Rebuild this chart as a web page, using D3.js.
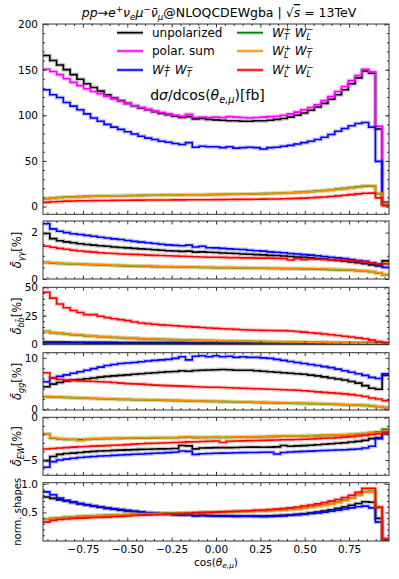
<!DOCTYPE html>
<html><head><meta charset="utf-8">
<script src="https://cdn.jsdelivr.net/npm/d3@7"></script>
<style>body{margin:0;background:#fff} text{font-family:"DejaVu Sans",sans-serif}</style>
</head><body><svg id="c" width="399" height="579"></svg>
<script>
// ---------- data ----------
const nBins = 51, xMin = -0.975, xMax = 0.975;
const binEdges = d3.range(nBins + 1).map(i => xMin + i * (xMax - xMin) / nBins);
const xTickVals = [-0.75, -0.5, -0.25, 0, 0.25, 0.5, 0.75];
const xTickLabels = ["−0.75", "−0.50", "−0.25", "0.00", "0.25", "0.50", "0.75"];

const mainUnpol = [165.5,160,155,150,144.5,139.5,134.5,130.5,126.5,122.5,
119,116,113,110.5,108,106,104,102,100.5,99,
97.5,98.5,96,96.5,95.5,95,94.5,94,94,93.5,
93.5,94,94,94.5,95.5,96.5,98,100,102.5,105.5,
109,113,117.5,122.5,128,134.5,141,148.5,146,85,
2.5];
const mainPolSum = [150.5,148,144.5,140,136,132.5,129,126,123.5,120.5,
118,115.5,113,110.5,108.5,106.5,104.5,103,101.5,100,
99,101,97.5,98,97.5,98,97.5,98.5,98,97.5,
97,97.5,98,98.5,99,100,101.5,103.5,106,108.5,
111.5,116,120.5,126,131.5,138,143.5,150.5,147.5,88,
5];
const mainTT = [128,122.5,119.5,114,110,106,101.5,97,93.5,90,
87,84.5,82,79.5,77,75,73.5,71.5,70.5,69,
68,70,65,66,65.5,65.5,64.5,65.5,64,64.5,
65,64.5,63,64.5,65,66,67,68.5,70,71.5,
73.5,76,79,82.5,85.5,88.5,91,92,87,49.5,
4];
const mainTL = [8.7,9.4,9.9,10.3,10.6,10.9,11.1,11.3,11.5,11.6,
11.8,11.9,12.0,12.1,12.2,12.3,12.4,12.5,12.6,12.7,
12.8,12.9,13.0,13.0,13.1,13.2,13.3,13.4,13.5,13.6,
13.8,13.9,14.1,14.3,14.5,14.8,15.1,15.5,15.9,16.4,
17.0,17.6,18.3,19.1,19.9,20.8,21.6,22.4,22.2,14.0,
3.0];
const mainLT = [8.5,9.3,9.8,10.2,10.5,10.8,11.0,11.2,11.4,11.5,
11.7,11.8,11.9,12.0,12.1,12.2,12.3,12.4,12.5,12.6,
12.7,12.8,12.9,12.9,13.0,13.1,13.2,13.3,13.4,13.5,
13.7,13.8,14.0,14.2,14.4,14.7,15.0,15.3,15.7,16.2,
16.7,17.3,18.0,18.7,19.5,20.3,21.2,22.7,22.7,14.5,
3.2];
const mainLL = [4.6,5.2,5.6,5.9,6.1,6.3,6.4,6.5,6.6,6.7,
6.8,6.9,6.9,7.0,7.0,7.1,7.1,7.2,7.2,7.3,
7.3,7.4,7.4,7.5,7.5,7.6,7.6,7.7,7.8,7.8,
7.9,8.0,8.1,8.2,8.3,8.5,8.7,8.9,9.2,9.6,
10.0,10.5,11.0,11.7,12.4,13.1,13.9,14.6,14.7,9.5,
0.8];

const yyUnpol = [1.96,1.74,1.65,1.60,1.56,1.52,1.49,1.46,1.43,1.41,
1.38,1.36,1.34,1.32,1.30,1.28,1.26,1.24,1.22,1.21,
1.19,1.20,1.16,1.17,1.15,1.14,1.12,1.11,1.10,1.08,
1.07,1.05,1.04,1.02,1.01,0.99,0.97,0.95,0.93,0.91,
0.88,0.86,0.83,0.80,0.77,0.73,0.70,0.66,0.61,0.56,
0.78];
const yyTT = [2.38,2.16,2.06,2.00,1.95,1.92,1.88,1.84,1.80,1.77,
1.73,1.70,1.66,1.62,1.59,1.56,1.53,1.50,1.47,1.45,
1.43,1.46,1.38,1.41,1.35,1.34,1.32,1.30,1.28,1.27,
1.24,1.22,1.20,1.17,1.15,1.13,1.10,1.08,1.05,1.03,
1.00,0.97,0.94,0.91,0.88,0.84,0.80,0.76,0.70,0.62,
0.50];
const yyTL = [0.71,0.685,0.665,0.655,0.645,0.635,0.625,0.615,0.605,0.595,
0.585,0.575,0.565,0.555,0.545,0.545,0.535,0.525,0.525,0.515,
0.515,0.505,0.505,0.495,0.495,0.485,0.485,0.485,0.475,0.475,
0.465,0.465,0.465,0.455,0.455,0.445,0.445,0.445,0.435,0.435,
0.425,0.415,0.405,0.395,0.385,0.375,0.355,0.335,0.31,0.25,
0.18];
const yyLT = [0.72,0.70,0.68,0.67,0.66,0.65,0.64,0.63,0.62,0.61,
0.60,0.59,0.58,0.57,0.56,0.56,0.55,0.54,0.54,0.53,
0.53,0.52,0.52,0.51,0.51,0.50,0.50,0.50,0.49,0.49,
0.48,0.48,0.48,0.47,0.47,0.46,0.46,0.46,0.45,0.45,
0.44,0.43,0.42,0.41,0.40,0.39,0.37,0.35,0.32,0.26,
0.19];
const yyLL = [1.41,1.37,1.32,1.28,1.24,1.21,1.18,1.16,1.13,1.11,
1.10,1.08,1.07,1.06,1.05,1.03,1.02,1.01,1.00,0.99,
0.98,0.97,0.96,0.95,0.94,0.94,0.93,0.92,0.92,0.91,
0.91,0.90,0.90,0.90,0.89,0.88,0.82,0.87,0.83,0.86,
0.85,0.84,0.83,0.82,0.80,0.78,0.76,0.73,0.69,0.66,
0.65];

const bbUnpol = [1.8,1.75,1.7,1.66,1.62,1.58,1.55,1.52,1.49,1.46,
1.43,1.4,1.38,1.35,1.33,1.3,1.28,1.26,1.24,1.22,
1.2,1.18,1.16,1.14,1.12,1.1,1.08,1.06,1.04,1.02,
1.0,0.98,0.96,0.94,0.92,0.9,0.88,0.86,0.84,0.82,
0.8,0.78,0.76,0.74,0.72,0.7,0.68,0.66,0.64,0.62,
0.6];
const bbTT = [0.95,0.92,0.9,0.88,0.86,0.84,0.82,0.8,0.79,0.78,
0.76,0.75,0.74,0.72,0.71,0.7,0.68,0.67,0.66,0.65,
0.64,0.62,0.61,0.6,0.59,0.58,0.57,0.56,0.55,0.54,
0.53,0.52,0.51,0.5,0.49,0.48,0.47,0.46,0.45,0.44,
0.43,0.42,0.41,0.4,0.39,0.38,0.37,0.36,0.35,0.33,
0.3];
const bbTL = [11.0,10.0,9.4,8.8,8.2,7.7,7.2,6.8,6.4,6.1,
5.8,5.5,5.2,5.0,4.7,4.5,4.3,4.1,3.9,3.7,
3.6,3.4,3.3,3.1,3.0,2.9,2.7,2.6,2.5,2.4,
2.3,2.2,2.1,2.0,1.9,1.8,1.7,1.6,1.5,1.4,
1.35,1.25,1.15,1.05,0.95,0.85,0.75,0.65,0.55,0.45,
0.3];
const bbLT = [11.3,10.2,9.6,9.0,8.4,7.9,7.4,7.0,6.6,6.3,
6.0,5.7,5.4,5.1,4.9,4.6,4.4,4.2,4.0,3.9,
3.7,3.5,3.4,3.2,3.1,3.0,2.8,2.7,2.6,2.5,
2.4,2.3,2.2,2.1,2.0,1.9,1.8,1.7,1.6,1.5,
1.4,1.3,1.2,1.1,1.0,0.9,0.8,0.7,0.6,0.5,
0.3];
const bbLL = [45.6,40.5,35.3,32,29.5,27.8,25.9,25.9,24.5,23.3,
22.3,21.5,20.6,19.4,18.5,18.0,17.4,16.9,16.5,16.1,
15.7,15.3,14.9,14.5,14.1,13.8,13.5,13.2,12.9,12.6,
12.4,12.2,12.0,11.9,11.8,11.8,11.5,11.0,10.5,10.0,
9.4,8.8,8.2,7.5,6.9,6.2,5.4,4.6,3.4,2.2,
1.2];

const ggUnpol = [4.4,4.9,5.2,5.5,5.7,5.8,5.95,6.1,6.25,6.4,
6.5,6.6,6.7,6.8,6.9,7.0,7.1,7.2,7.3,7.35,
7.5,7.4,7.55,7.6,7.65,7.7,7.75,7.7,7.6,7.6,
7.6,7.5,7.4,7.3,7.2,7.1,7.0,6.9,6.8,6.65,
6.5,6.3,6.1,5.9,5.7,5.4,5.1,4.6,4.1,3.9,
6.6];
const ggTT = [5.35,6.1,6.4,6.7,7.0,7.3,7.6,7.9,8.2,8.5,
8.7,8.9,9.0,9.1,9.25,9.4,9.5,9.6,9.7,9.9,
10.2,9.6,10.3,10.4,10.2,10.4,10.2,10.3,10.1,10.2,
10.1,10.1,10.0,9.9,9.7,9.5,9.3,9.1,8.9,8.7,
8.5,8.3,8.1,7.8,7.5,7.2,6.9,6.6,6.2,6.0,
6.9];
const ggTL = [2.45,2.4,2.35,2.3,2.25,2.2,2.15,2.1,2.05,2.0,
1.95,1.93,1.9,1.87,1.85,1.82,1.79,1.76,1.73,1.7,
1.67,1.64,1.61,1.58,1.55,1.52,1.49,1.46,1.43,1.4,
1.37,1.34,1.31,1.28,1.25,1.22,1.19,1.16,1.13,1.1,
1.07,1.04,1.0,0.95,0.9,0.85,0.8,0.73,0.65,0.5,
0.35];
const ggLT = [2.5,2.45,2.4,2.35,2.3,2.25,2.2,2.15,2.1,2.05,
2.0,1.98,1.95,1.92,1.9,1.87,1.84,1.81,1.78,1.75,
1.72,1.69,1.66,1.63,1.6,1.57,1.54,1.51,1.48,1.45,
1.42,1.39,1.36,1.33,1.3,1.27,1.24,1.21,1.18,1.15,
1.12,1.09,1.05,1.0,0.95,0.9,0.85,0.78,0.7,0.55,
0.4];
const ggLL = [7.1,6.1,5.8,5.7,5.6,5.5,5.45,5.4,5.35,5.3,
5.2,5.1,5.0,4.95,4.9,4.8,4.7,4.65,4.6,4.55,
4.5,4.45,4.4,4.35,4.3,4.3,4.25,4.2,4.15,4.1,
4.05,4.0,3.95,3.9,3.85,3.8,3.75,3.7,3.6,3.5,
3.4,3.3,3.2,3.1,3.0,2.85,2.7,2.5,2.2,2.0,
1.7];

const ewUnpol = [-5.08,-4.6,-4.35,-4.25,-4.2,-4.12,-4.05,-4.0,-3.95,-3.92,
-3.88,-3.85,-3.82,-3.79,-3.76,-3.74,-3.72,-3.7,-3.68,-3.66,
-3.3,-3.35,-3.7,-3.6,-3.58,-3.56,-3.55,-3.56,-3.54,-3.52,
-3.5,-3.5,-3.52,-3.5,-3.47,-3.3,-3.4,-3.35,-3.32,-3.28,
-3.22,-3.16,-3.1,-3.05,-2.98,-2.9,-2.82,-2.7,-2.5,-2.4,
-1.7];
const ewTT = [-5.86,-5.2,-5.0,-4.9,-4.8,-4.72,-4.65,-4.6,-4.54,-4.5,
-4.46,-4.42,-4.38,-4.34,-4.3,-4.26,-4.22,-4.18,-4.14,-4.1,
-3.95,-4.0,-4.35,-4.28,-4.25,-4.22,-4.2,-4.18,-4.16,-4.14,
-4.13,-4.12,-4.1,-4.1,-4.3,-4.12,-4.06,-4.03,-4.0,-3.97,
-3.93,-3.9,-3.87,-3.83,-3.8,-3.76,-3.71,-3.6,-3.4,-2.5,
-1.95];
const ewTL = [-1.96,-2.45,-2.55,-2.6,-2.6,-2.62,-2.6,-2.55,-2.52,-2.5,
-2.48,-2.47,-2.45,-2.44,-2.43,-2.42,-2.41,-2.4,-2.4,-2.39,
-2.36,-2.34,-2.38,-2.37,-2.36,-2.35,-2.36,-2.35,-2.33,-2.32,
-2.31,-2.3,-2.28,-2.26,-2.24,-2.22,-2.2,-2.2,-2.18,-2.17,
-2.15,-2.12,-2.1,-2.07,-2.05,-2.01,-1.97,-1.9,-1.8,-1.7,
-1.4];
const ewLT = [-1.96,-2.4,-2.5,-2.55,-2.58,-2.75,-2.55,-2.5,-2.48,-2.46,
-2.45,-2.43,-2.42,-2.4,-2.4,-2.39,-2.38,-2.38,-2.37,-2.36,
-2.3,-2.28,-2.35,-2.36,-2.33,-2.32,-2.34,-2.33,-2.3,-2.3,
-2.28,-2.27,-2.25,-2.22,-2.2,-2.18,-2.17,-2.18,-2.16,-2.15,
-2.13,-2.1,-2.08,-2.06,-2.04,-2.0,-1.96,-1.9,-1.82,-1.75,
-1.57];
const ewLL = [-3.71,-3.65,-3.6,-3.55,-3.5,-3.46,-3.42,-3.38,-3.35,-3.32,
-3.28,-3.24,-3.2,-3.15,-3.1,-3.06,-3.05,-3.02,-2.98,-2.95,
-2.92,-2.88,-2.86,-2.84,-2.8,-2.78,-2.95,-2.8,-2.77,-2.76,
-2.74,-2.72,-2.7,-2.68,-2.66,-2.64,-2.62,-2.6,-2.57,-2.54,
-2.5,-2.46,-2.42,-2.38,-2.33,-2.27,-2.2,-2.12,-2.02,-1.92,
-1.8];

const shapeUnpol = [0.77,0.745,0.72,0.70,0.675,0.65,0.63,0.61,0.59,0.57,
0.555,0.54,0.525,0.515,0.505,0.495,0.485,0.475,0.468,0.46,
0.455,0.458,0.447,0.448,0.444,0.442,0.44,0.437,0.437,0.435,
0.435,0.437,0.437,0.44,0.444,0.45,0.456,0.465,0.477,0.49,
0.507,0.525,0.547,0.57,0.595,0.625,0.655,0.688,0.678,0.395,
0.012];
const shapeTT = [0.86,0.81,0.75,0.71,0.68,0.655,0.635,0.615,0.595,0.58,
0.565,0.55,0.535,0.52,0.505,0.495,0.485,0.475,0.468,0.462,
0.455,0.46,0.44,0.445,0.44,0.437,0.433,0.437,0.43,0.432,
0.433,0.43,0.425,0.43,0.435,0.44,0.45,0.46,0.47,0.48,
0.49,0.505,0.52,0.54,0.56,0.58,0.60,0.61,0.58,0.33,
0.025];
const shapeTL = [0.38,0.395,0.405,0.415,0.423,0.43,0.436,0.442,0.447,0.452,
0.456,0.46,0.464,0.468,0.472,0.475,0.478,0.481,0.484,0.487,
0.49,0.493,0.496,0.499,0.502,0.505,0.508,0.511,0.514,0.517,
0.52,0.524,0.529,0.534,0.54,0.547,0.555,0.565,0.578,0.593,
0.61,0.63,0.654,0.683,0.717,0.757,0.805,0.862,0.868,0.595,
0.035];
const shapeLT = [0.375,0.39,0.40,0.41,0.42,0.427,0.433,0.44,0.445,0.45,
0.455,0.458,0.462,0.466,0.47,0.473,0.476,0.479,0.482,0.485,
0.488,0.491,0.494,0.497,0.5,0.503,0.506,0.509,0.512,0.515,
0.518,0.522,0.527,0.532,0.538,0.545,0.553,0.563,0.575,0.59,
0.607,0.627,0.65,0.675,0.71,0.75,0.80,0.855,0.86,0.59,
0.035];
const shapeLL = [0.33,0.36,0.375,0.385,0.393,0.40,0.405,0.41,0.414,0.418,
0.423,0.43,0.437,0.445,0.452,0.457,0.462,0.467,0.472,0.477,
0.482,0.487,0.492,0.497,0.5,0.505,0.51,0.515,0.52,0.525,
0.53,0.537,0.543,0.55,0.558,0.568,0.58,0.595,0.612,0.63,
0.65,0.672,0.697,0.725,0.76,0.80,0.85,0.92,0.92,0.585,
0.035];

// ---------- styles ----------
const colors = {unpol:"#000000", polsum:"#ff00ff", TT:"#0000ff", TL:"#008000", LT:"#ff8c00", LL:"#ff0000"};

const svg = d3.select("#c");
const X0 = 43, X1 = 389;
const x = d3.scaleLinear().domain([xMin, xMax]).range([X0, X1]);

function rich(textSel, segs, size) {
  let cur = 0, prevLen = 0;
  segs.forEach(s => {
    const fs = s.sh ? size * 0.7 : size;
    const target = s.sh === "sup" ? -0.4 * size : s.sh === "sub" ? 0.22 * size : 0;
    const ts = textSel.append("tspan").text(s.t).attr("font-size", fs);
    if (target !== cur) ts.attr("dy", target - cur);
    cur = target;
    if (s.it) ts.attr("font-style", "italic");
    if (s.ol) ts.attr("text-decoration", "overline");
    if (s.back) ts.attr("dx", -prevLen);
    prevLen = ts.node().getComputedTextLength();
  });
}

const panels = [
  {top:24, bot:214.3, dom:[-8.5,200], major:[0,50,100,150,200], labels:["0","50","100","150","200"], minor:d3.range(10,200,10),
   series:[[mainUnpol,"unpol"],[mainPolSum,"polsum"],[mainTT,"TT"],[mainTL,"TL"],[mainLT,"LT"],[mainLL,"LL"]], ylab:null},
  {top:221, bot:279, dom:[0,2.5], major:[0,2], labels:["0","2"], minor:[0.5,1,1.5],
   series:[[yyUnpol,"unpol"],[yyTT,"TT"],[yyTL,"TL"],[yyLT,"LT"],[yyLL,"LL"]], ylab:[{t:"δ̄",it:1},{t:"γγ",it:1,sh:"sub"},{t:"[%]"}], ls:11.5},
  {top:287.3, bot:344.7, dom:[-0.6,50], major:[0,25,50], labels:["0","25","50"], minor:d3.range(5,50,5),
   series:[[bbUnpol,"unpol"],[bbTT,"TT"],[bbTL,"TL"],[bbLT,"LT"],[bbLL,"LL"]], ylab:[{t:"δ̄",it:1},{t:"bb̄",it:1,sh:"sub"},{t:"[%]"}], ls:11.5},
  {top:352.7, bot:410, dom:[-0.13,11], major:[0,10], labels:["0","10"], minor:[2,4,6,8],
   series:[[ggUnpol,"unpol"],[ggTT,"TT"],[ggTL,"TL"],[ggLT,"LT"],[ggLL,"LL"]], ylab:[{t:"δ̄",it:1},{t:"gg",it:1,sh:"sub"},{t:"[%]"}], ls:11.5},
  {top:417.3, bot:475.3, dom:[-6.8,0], major:[-5,0], labels:["−5","0"], minor:[-6,-4,-3,-2,-1],
   series:[[ewUnpol,"unpol"],[ewTT,"TT"],[ewTL,"TL"],[ewLT,"LT"],[ewLL,"LL"]], ylab:[{t:"δ̄",it:1},{t:"EW",it:1,sh:"sub"},{t:"[%]"}], ls:11.5},
  {top:482.7, bot:541, dom:[0,1.02], major:[0.5,1.0], labels:["0.5","1.0"], minor:[0.1,0.2,0.3,0.4,0.6,0.7,0.8,0.9],
   series:[[shapeUnpol,"unpol"],[shapeTT,"TT"],[shapeTL,"TL"],[shapeLT,"LT"],[shapeLL,"LL"]], ylab:[{t:"norm. shapes"}], ls:10}
];

const xMinor = d3.range(-0.95, 0.96, 0.05).map(v => Math.round(v*100)/100).filter(v => !xTickVals.some(t => Math.abs(t - v) < 1e-6));

panels.forEach((p, pi) => {
  const y = d3.scaleLinear().domain(p.dom).range([p.bot, p.top]);
  const g = svg.append("g");
  const cid = "clip" + pi;
  svg.append("clipPath").attr("id", cid).append("rect").attr("x", X0).attr("y", p.top).attr("width", X1 - X0).attr("height", p.bot - p.top);
  const gs = g.append("g").attr("clip-path", `url(#${cid})`);
  const line = d3.line().x(d => x(d[0])).y(d => y(d[1])).curve(d3.curveStepAfter);
  p.series.forEach(([vals, key]) => {
    const pts = vals.map((v, i) => [binEdges[i], v]);
    pts.push([binEdges[nBins], vals[nBins - 1]]);
    gs.append("path").attr("d", line(pts)).attr("fill", "none").attr("stroke", colors[key]).attr("stroke-width", 4).attr("stroke-opacity", 0.22);
    gs.append("path").attr("d", line(pts)).attr("fill", "none").attr("stroke", colors[key]).attr("stroke-width", 1.6);
  });
  const style = sel => { sel.select(".domain").remove(); sel.selectAll("line").attr("stroke", "#333"); sel.selectAll("text").attr("font-family", "DejaVu Sans").attr("font-size", 10.5).attr("fill", "#000"); };
  g.append("g").attr("transform", `translate(${X0},0)`).call(d3.axisLeft(y).tickValues(p.major).tickFormat((d, i) => p.labels[i]).tickSize(-3.5).tickPadding(5)).call(style);
  g.append("g").attr("transform", `translate(${X0},0)`).call(d3.axisLeft(y).tickValues(p.minor).tickFormat("").tickSize(-2)).call(style);
  g.append("g").attr("transform", `translate(${X1},0)`).call(d3.axisRight(y).tickValues(p.major).tickFormat("").tickSize(-3.5)).call(style);
  g.append("g").attr("transform", `translate(${X1},0)`).call(d3.axisRight(y).tickValues(p.minor).tickFormat("").tickSize(-2)).call(style);
  const last = pi === panels.length - 1;
  g.append("g").attr("transform", `translate(0,${p.bot})`).call(d3.axisBottom(x).tickValues(xTickVals).tickFormat((d, i) => last ? xTickLabels[i] : "").tickSize(-3.5).tickPadding(5)).call(style);
  g.append("g").attr("transform", `translate(0,${p.bot})`).call(d3.axisBottom(x).tickValues(xMinor).tickFormat("").tickSize(-2)).call(style);
  g.append("g").attr("transform", `translate(0,${p.top})`).call(d3.axisTop(x).tickValues(xTickVals).tickFormat("").tickSize(-3.5)).call(style);
  g.append("g").attr("transform", `translate(0,${p.top})`).call(d3.axisTop(x).tickValues(xMinor).tickFormat("").tickSize(-2)).call(style);
  g.append("rect").attr("x", X0).attr("y", p.top).attr("width", X1 - X0).attr("height", p.bot - p.top).attr("fill", "none").attr("stroke", "#333").attr("stroke-width", 1);
  if (p.ylab) {
    const t = svg.append("text").attr("transform", `translate(21,${(p.top + p.bot) / 2}) rotate(-90)`).attr("text-anchor", "middle");
    rich(t, p.ylab, p.ls);
  }
});

// title
const title = svg.append("text").attr("x", 219).attr("y", 17).attr("text-anchor", "middle");
rich(title, [{t:"pp",it:1},{t:"→"},{t:"e",it:1},{t:"+",sh:"sup"},{t:"ν",it:1},{t:"e",it:1,sh:"sub"},{t:"μ",it:1},{t:"−",sh:"sup"},{t:"ν̄",it:1},{t:"μ",it:1,sh:"sub"},{t:"@NLOQCDEWgba | "},{t:"√"},{t:"s",it:1,ol:1},{t:" = 13TeV"}], 12.5);

// legend
const legend = [
  {key:"unpol", col:0, row:0, segs:[{t:"unpolarized"}]},
  {key:"polsum", col:0, row:1, segs:[{t:"polar. sum"}]},
  {key:"TT", col:0, row:2, segs:[{t:"W",it:1},{t:"T",it:1,sh:"sub"},{t:"+",sh:"sup",back:1},{t:" "},{t:"W",it:1},{t:"T",it:1,sh:"sub"},{t:"−",sh:"sup",back:1}]},
  {key:"TL", col:1, row:0, segs:[{t:"W",it:1},{t:"T",it:1,sh:"sub"},{t:"+",sh:"sup",back:1},{t:" "},{t:"W",it:1},{t:"L",it:1,sh:"sub"},{t:"−",sh:"sup",back:1}]},
  {key:"LT", col:1, row:1, segs:[{t:"W",it:1},{t:"L",it:1,sh:"sub"},{t:"+",sh:"sup",back:1},{t:" "},{t:"W",it:1},{t:"T",it:1,sh:"sub"},{t:"−",sh:"sup",back:1}]},
  {key:"LL", col:1, row:2, segs:[{t:"W",it:1},{t:"L",it:1,sh:"sub"},{t:"+",sh:"sup",back:1},{t:" "},{t:"W",it:1},{t:"L",it:1,sh:"sub"},{t:"−",sh:"sup",back:1}]}
];
const colX = [117, 237], rowY = [32.7, 51, 70];
legend.forEach(e => {
  const lx = colX[e.col], ly = rowY[e.row];
  svg.append("line").attr("x1", lx).attr("x2", lx + 26).attr("y1", ly).attr("y2", ly).attr("stroke", colors[e.key]).attr("stroke-width", 4).attr("stroke-opacity", 0.22);
  svg.append("line").attr("x1", lx).attr("x2", lx + 26).attr("y1", ly).attr("y2", ly).attr("stroke", colors[e.key]).attr("stroke-width", 1.6);
  const t = svg.append("text").attr("x", lx + 35).attr("y", ly + 4.3);
  rich(t, e.segs, 12);
});

// annotation
const ann = svg.append("text").attr("x", 207.5).attr("y", 99.5).attr("text-anchor", "middle");
rich(ann, [{t:"d"},{t:"σ",it:1},{t:"/dcos("},{t:"θ",it:1},{t:"e,μ",it:1,sh:"sub"},{t:")[fb]"}], 14);

// x label
const xl = svg.append("text").attr("x", 216).attr("y", 566).attr("text-anchor", "middle");
rich(xl, [{t:"cos("},{t:"θ",it:1},{t:"e,μ",it:1,sh:"sub"},{t:")"}], 10.5);
</script></body></html>
